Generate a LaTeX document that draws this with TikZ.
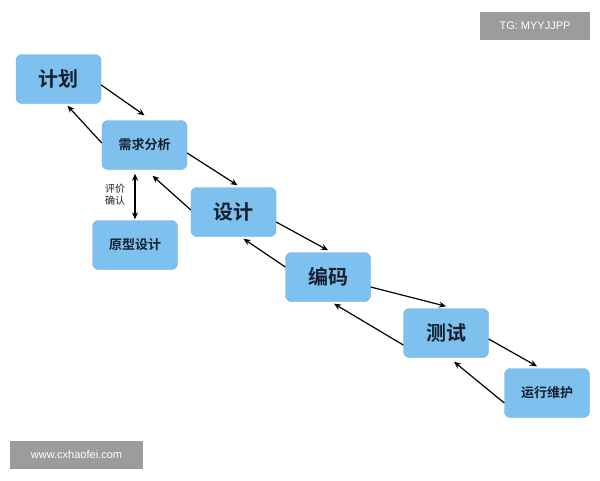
\documentclass[tikz,border=0pt]{standalone}
\usetikzlibrary{arrows.meta}
\usepackage{fontspec}
\newfontfamily\cjk{Noto Sans CJK SC}
\newfontfamily\cjkb{Noto Sans CJK SC Bold}
\newfontfamily\lat{Liberation Sans}
\definecolor{boxfill}{HTML}{7EC0EE}
\definecolor{boxline}{HTML}{6AAEE0}
\definecolor{txt}{HTML}{15202E}
\definecolor{wm}{HTML}{9C9C9C}
\begin{document}
\begin{tikzpicture}[x=1pt,y=-1pt,
  box/.style={draw=boxline,fill=boxfill,rounded corners=6pt,minimum width=85pt,minimum height=49pt,text=txt,inner sep=0pt},
  big/.style={box,font=\cjkb\fontsize{20}{20}\selectfont},
  small/.style={box,font=\cjkb\fontsize{13}{13}\selectfont},
  ar/.style={-{Stealth[length=7pt,width=6pt]},line width=1.2pt,black},
  wmbox/.style={fill=wm,text=white,inner sep=0pt}]
\useasboundingbox (0,0) rectangle (600,480);
\node[big] (jh) at (58.5,79) {计划};
\node[small] (xq) at (144.5,145) {需求分析};
\node[small] (yx) at (135,245) {原型设计};
\node[big] (sj) at (233.5,212) {设计};
\node[big] (bm) at (328,277) {编码};
\node[big] (cs) at (446,333) {测试};
\node[small] (yw) at (547,393) {运行维护};
\node[font=\cjk\fontsize{10}{12}\selectfont,text=txt,align=center] (pj) at (115,195) {评价\\确认};
\draw[ar] ([yshift=-6pt]jh.east) -- ([yshift=5pt]xq.north);
\draw[ar] ([yshift=2pt]xq.west) -- ([xshift=9pt,yshift=-2pt]jh.south);
\draw[ar] ([yshift=-8pt]xq.east) -- ([xshift=4pt,yshift=2pt]sj.north);
\draw[ar] ([yshift=2pt]sj.west) -- ([xshift=8pt,yshift=-6pt]xq.south);
\draw[{Stealth[length=7pt,width=6pt]}-{Stealth[length=7pt,width=6pt]},line width=1.2pt] ([xshift=-9.5pt,yshift=-4pt]xq.south) -- ([yshift=1pt]yx.north);
\draw[ar] ([yshift=-10pt]sj.east) -- ([yshift=2pt]bm.north);
\draw[ar] ([yshift=10pt]bm.west) -- ([xshift=10pt,yshift=-2pt]sj.south);
\draw[ar] ([yshift=-10pt]bm.east) -- ([xshift=0pt,yshift=2pt]cs.north);
\draw[ar] ([yshift=-12pt]cs.west) -- ([xshift=6pt,yshift=-2pt]bm.south);
\draw[ar] ([yshift=-6pt]cs.east) -- ([xshift=-10pt,yshift=2pt]yw.north);
\draw[ar] ([yshift=-10pt]yw.west) -- ([xshift=8pt,yshift=-4pt]cs.south);
\node[wmbox,minimum width=110pt,minimum height=28pt,font=\lat\fontsize{11}{11}\selectfont] (tg) at (535,26) {TG: MYYJJPP};
\node[wmbox,minimum width=133pt,minimum height=28pt,font=\lat\fontsize{11}{11}\selectfont] (ws) at (76.5,455) {www.cxhaofei.com};
\end{tikzpicture}
\end{document}
